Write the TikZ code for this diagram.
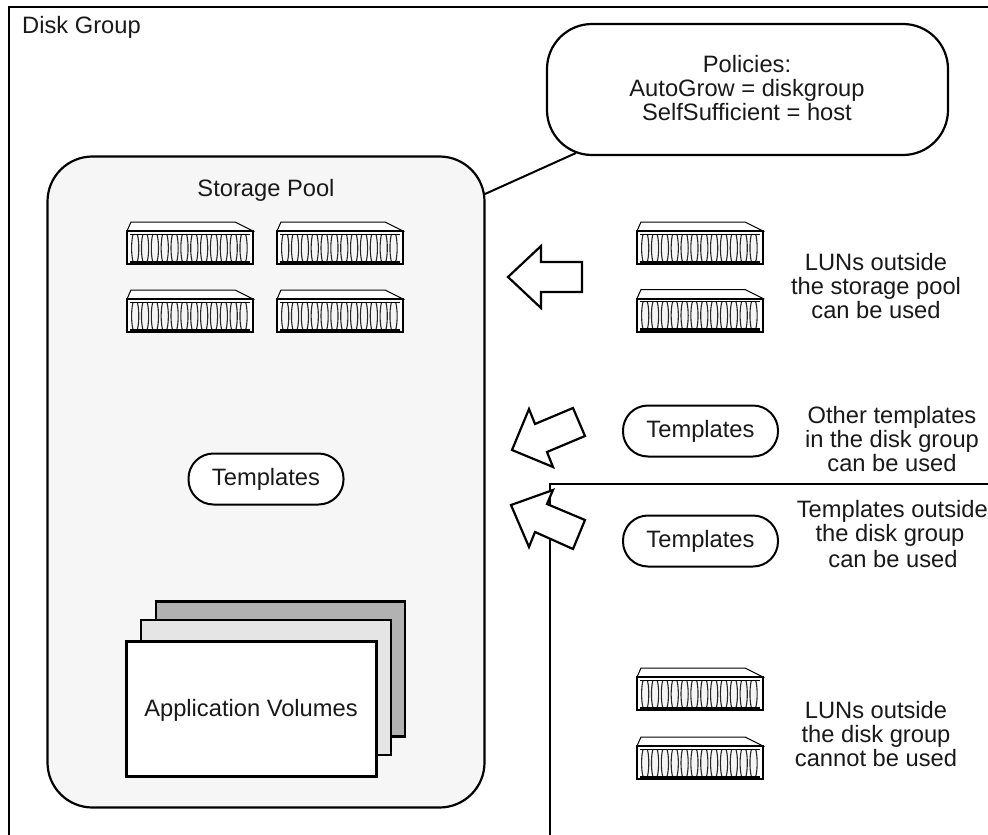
\documentclass[tikz,border=0pt]{standalone}
\usepackage{fontspec}
\setmainfont{Liberation Sans}
\definecolor{poolgray}{gray}{0.965}
\definecolor{volmid}{gray}{0.9}
\definecolor{voldark}{gray}{0.7}
\newcommand{\lblfont}{\fontsize{23.7}{24}\selectfont}
\tikzset{
  frameline/.style={draw=black,line width=2.2pt},
  lbl/.style={font=\lblfont,align=center,text=black!90,inner sep=0pt},
  tmpl/.style={draw=black,line width=2pt,fill=white,rounded corners=25pt,minimum width=155pt,minimum height=51pt,inner sep=0pt,font=\lblfont,text=black!90},
  vol/.style={draw=black,line width=2.6pt,minimum width=250pt,minimum height=135pt,inner sep=0pt,anchor=north west},
  arrowshape/.style={draw=black,line width=2.2pt,fill=white,line join=miter},
  unit/.pic={
    \draw[black,line width=1pt,fill=white] (4,-9) -- (108,-9) -- (126,0) -- (0,0) -- cycle;
    \draw[black,line width=2pt,fill=white] (0,0) rectangle (126,33);
    \begin{scope}
      \clip (3,3) rectangle (123,31);
      \foreach \i in {0,...,11}{
        \draw[black!85,line width=1.1pt,fill=black!4] ({8.2+\i*9.85},17) ellipse (3.6 and 17);
      }
    \end{scope}
    \draw[black,line width=1.1pt] (3,3.2) -- (123,3.2);
    \draw[black,line width=2.2pt] (3,31) -- (123,31);
  }
}
\begin{document}
\begin{tikzpicture}[x=1pt,y=-1pt]
\useasboundingbox (0,0) rectangle (988,835);
\fill[white] (0,0) rectangle (988,835);
\coordinate (oa) at (9,835); \coordinate (ob) at (9,7); \coordinate (oc) at (988,7);
\draw[frameline] (oa) -- (ob) -- (oc);
\coordinate (ia) at (550,835); \coordinate (ib) at (550,484); \coordinate (ic) at (988,484);
\draw[frameline] (ia) -- (ib) -- (ic);
\node[lbl,anchor=west] (dg) at (22,27) {Disk Group};
\node[draw=black,line width=2.2pt,fill=poolgray,rounded corners=45pt,minimum width=437pt,minimum height=651pt,inner sep=0pt] (pool) at (266,482) {};
\node[draw=black,line width=2.2pt,fill=white,rounded corners=45pt,minimum width=401pt,minimum height=131pt,inner sep=0pt] (pol) at (747.5,89.5) {};
\node[lbl] (polt) at (747,88) {Policies:\\AutoGrow = diskgroup\\SelfSufficient = host};
\coordinate (pa) at (485,194); \coordinate (pb) at (576,153);
\draw[black,line width=2pt] (pa) -- (pb);
\node[lbl] (sp) at (266,190) {Storage Pool};
\pic at (127,231) {unit};
\pic at (277,231) {unit};
\pic at (127,299) {unit};
\pic at (277,299) {unit};
\pic at (637,231) {unit};
\pic at (637,298.5) {unit};
\pic at (637,677) {unit};
\pic at (637,746) {unit};
\node[tmpl] (t1) at (266,479) {Templates};
\node[tmpl] (t2) at (700.5,431) {Templates};
\node[tmpl] (t3) at (700.5,541) {Templates};
\node[vol,fill=voldark,minimum width=249pt] (v3) at (154.7,600.4) {};
\node[vol,fill=volmid] (v2) at (139.7,618.7) {};
\node[vol,fill=white] (v1) at (125.2,640.2) {};
\node[lbl] (vt) at (251,710) {Application Volumes};
\node[lbl] (n1) at (876,286) {LUNs outside\\the storage pool\\can be used};
\node[lbl] (n2) at (892,439) {Other templates\\in the disk group\\can be used};
\node[lbl,anchor=east] (n3) at (988,511) {Templates outside};
\node[lbl] (n3b) at (890,535) {the disk group};
\node[lbl] (n3c) at (893,559) {can be used};
\node[lbl] (n4) at (876,734) {LUNs outside\\the disk group\\cannot be used};
\draw[arrowshape] (508,277) -- (541,246) -- (541,262) -- (582,262) -- (582,292) -- (541,292) -- (541,308) -- cycle;
\draw[arrowshape] (512,450) -- (529,409) -- (535,424) -- (573,408) -- (585,436) -- (547,452) -- (553,467) -- cycle;
\draw[arrowshape] (511,505) -- (553,490) -- (547,504) -- (585,520) -- (573,549) -- (535,532) -- (529,547) -- cycle;
\end{tikzpicture}
\end{document}
